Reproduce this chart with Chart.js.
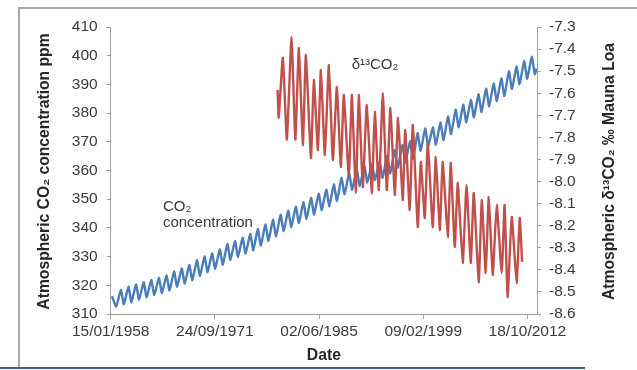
<!DOCTYPE html>
<html>
<head>
<meta charset="utf-8">
<script src="https://cdn.jsdelivr.net/npm/chart.js@4.4.1/dist/chart.umd.min.js"></script>
<style>
  html, body { margin: 0; padding: 0; background: #fff; }
  #wrap { position: relative; width: 637px; height: 370px; overflow: hidden; }
  #frame { position: absolute; left: 18px; top: 7px; width: 700px; height: 362px;
           border-left: 2px solid #a9a9a9; border-top: 2px solid #a9a9a9; box-sizing: border-box; }
  #bottomline { position: absolute; left: 0; top: 367px; width: 585px; height: 2px; background: #3b6091; }
  #box { position: absolute; left: 0; top: 0; width: 637px; height: 370px; }
</style>
</head>
<body>
<div id="wrap">
  <div id="frame"></div>
  <div id="bottomline"></div>
  <div id="box"><canvas id="chart"></canvas></div>
</div>
<script>
// Axis ticks
const tickDates = [1958.04, 1971.73, 1985.42, 1999.11, 2012.80];
const tickLabels = ['15/01/1958', '24/09/1971', '02/06/1985', '09/02/1999', '18/10/2012'];
const ppmTicks = [310, 320, 330, 340, 350, 360, 370, 380, 390, 400, 410];
const d13Ticks = [-8.6, -8.5, -8.4, -8.3, -8.2, -8.1, -8.0, -7.9, -7.8, -7.7, -7.6, -7.5, -7.4, -7.3];

// CO2 concentration (ppm), seasonal highs and lows
const co2Dates = [
    1958.20, 1958.77,
    1959.37, 1959.77, 1960.37, 1960.77, 1961.37, 1961.77, 1962.37, 1962.77,
    1963.37, 1963.77, 1964.37, 1964.77, 1965.37, 1965.77, 1966.37, 1966.77,
    1967.37, 1967.77, 1968.37, 1968.77, 1969.37, 1969.77, 1970.37, 1970.77,
    1971.37, 1971.77, 1972.37, 1972.77, 1973.37, 1973.77, 1974.37, 1974.77,
    1975.37, 1975.77, 1976.37, 1976.77, 1977.37, 1977.77, 1978.37, 1978.77,
    1979.37, 1979.77, 1980.37, 1980.77, 1981.37, 1981.77, 1982.37, 1982.77,
    1983.37, 1983.77, 1984.37, 1984.77, 1985.37, 1985.77, 1986.37, 1986.77,
    1987.37, 1987.77, 1988.37, 1988.77, 1989.37, 1989.77, 1990.37, 1990.77,
    1991.37, 1991.77, 1992.37, 1992.77, 1993.37, 1993.77, 1994.37, 1994.77,
    1995.37, 1995.77, 1996.37, 1996.77, 1997.37, 1997.77, 1998.37, 1998.77,
    1999.37, 1999.77, 2000.37, 2000.77, 2001.37, 2001.77, 2002.37, 2002.77,
    2003.37, 2003.77, 2004.37, 2004.77, 2005.37, 2005.77, 2006.37, 2006.77,
    2007.37, 2007.77, 2008.37, 2008.77, 2009.37, 2009.77, 2010.37, 2010.77,
    2011.37, 2011.77, 2012.37, 2012.77, 2013.37, 2013.77, 2014.00
];
const co2Values = [
    316.2, 312.6,
    318.4, 313.4, 319.5, 314.1, 320.3, 315.0, 321.1, 315.8,
    321.9, 316.6, 322.6, 317.3, 323.4, 318.2, 324.8, 319.5,
    325.9, 320.6, 327.1, 321.8, 328.7, 323.3, 330.0, 324.6,
    331.1, 325.8, 332.5, 327.2, 334.4, 328.9, 335.4, 329.9,
    336.6, 331.1, 337.9, 332.2, 339.6, 333.9, 341.2, 335.5,
    342.8, 337.1, 344.6, 338.9, 346.0, 340.3, 347.4, 341.7,
    348.9, 343.2, 350.4, 344.7, 351.9, 346.2, 353.3, 347.6,
    355.1, 349.4, 357.4, 351.7, 359.0, 353.3, 360.3, 354.6,
    361.5, 355.8, 362.4, 356.7, 363.2, 357.5, 365.1, 359.0,
    367.1, 361.0, 368.9, 362.8, 370.2, 364.1, 373.0, 366.9,
    374.6, 368.5, 375.1, 369.0, 376.7, 370.6, 378.8, 372.7,
    381.2, 375.1, 382.9, 376.8, 384.6, 378.5, 386.6, 380.4,
    388.5, 382.4, 390.3, 384.2, 392.1, 386.0, 394.5, 388.4,
    396.2, 390.1, 398.1, 392.0, 399.6, 393.6, 395.5
];

// d13C of CO2 (per mil), Mauna Loa
const d13Dates = [
    1979.98, 1980.12, 1980.66, 1981.19, 1981.80, 1982.30, 1982.77, 1983.29, 1983.69,
    1984.35, 1984.74, 1985.27, 1985.66, 1986.18, 1986.71, 1987.23, 1987.76,
    1988.28, 1988.68, 1989.33, 1989.73, 1990.25, 1990.64, 1991.17, 1991.69,
    1992.35, 1992.75, 1993.27, 1993.80, 1994.32, 1994.80, 1995.37, 1995.80,
    1996.42, 1996.75, 1997.34, 1997.74, 1998.39, 1998.79, 1999.31, 1999.71,
    2000.36, 2000.76, 2001.28, 2001.68, 2002.33, 2002.73, 2003.25, 2003.65,
    2004.30, 2004.80, 2005.35, 2005.75, 2006.40, 2006.80, 2007.32, 2007.72,
    2008.24, 2008.77, 2009.42, 2009.80, 2010.20, 2010.74, 2011.38, 2011.79, 2012.10
];
const d13Values = [
    -7.585, -7.71, -7.44, -7.81, -7.345, -7.81, -7.395, -7.834, -7.427,
    -7.893, -7.54, -7.857, -7.495, -7.88, -7.472, -7.902, -7.572,
    -7.934, -7.608, -7.979, -7.608, -8.052, -7.608, -8.025, -7.653,
    -8.052, -7.684, -8.038, -7.599, -8.038, -7.667, -8.061, -7.712,
    -8.084, -7.767, -8.129, -7.744, -8.206, -7.911, -8.165, -7.825,
    -8.206, -7.889, -8.22, -7.911, -8.251, -7.916, -8.296, -8.007,
    -8.369, -8.016, -8.369, -8.052, -8.455, -8.084, -8.414, -8.07,
    -8.423, -8.106, -8.414, -8.106, -8.523, -8.16, -8.46, -8.165, -8.364
];

const FONT = "'Liberation Sans', Arial, sans-serif";
const TEXT = '#3a3a3a';
const AXIS = '#a0a0a0';

Chart.defaults.font.family = FONT;
Chart.defaults.color = TEXT;

// titles and in-plot labels
const textPlugin = {
    id: 'texts',
    afterDraw(chart) {
        const ctx = chart.ctx;
        const a = chart.chartArea;
        const x = chart.scales.x, y = chart.scales.y, y1 = chart.scales.y1;
        const midY = (a.top + a.bottom) / 2;
        ctx.save();
        ctx.fillStyle = '#262626';
        ctx.textAlign = 'center';
        ctx.textBaseline = 'middle';
        ctx.font = 'bold 15.7px ' + FONT;

        ctx.save();
        ctx.translate(45, midY + 1);
        ctx.rotate(-Math.PI / 2);
        ctx.fillText('Atmospheric CO\u2082 concentration ppm', 0, 0);
        ctx.restore();

        ctx.save();
        ctx.translate(610, midY + 1);
        ctx.rotate(-Math.PI / 2);
        ctx.fillText('Atmospheric \u03B4\u00B9\u00B3CO\u2082 \u2030 Mauna Loa', 0, 0);
        ctx.restore();

        ctx.fillText('Date', (a.left + a.right) / 2, 356);

        ctx.fillStyle = TEXT;
        ctx.font = '15px ' + FONT;
        ctx.textAlign = 'left';
        ctx.fillText('\u03B4\u00B9\u00B3CO\u2082', x.getPixelForValue(1989.7), y1.getPixelForValue(-7.47));
        ctx.fillText('CO\u2082', x.getPixelForValue(1964.9), y.getPixelForValue(347.3));
        ctx.fillText('concentration', x.getPixelForValue(1964.9), y.getPixelForValue(341.6));
        ctx.restore();
    }
};

const toPoints = (xs, ys) => xs.map((d, i) => ({ x: d, y: ys[i] }));

new Chart(document.getElementById('chart'), {
    type: 'line',
    data: {
        datasets: [{
            label: 'd13CO2',
            data: toPoints(d13Dates, d13Values),
            yAxisID: 'y1',
            borderColor: '#c0504d',
            borderWidth: 2.4,
            pointRadius: 0,
            tension: 0.15
        }, {
            label: 'CO2',
            data: toPoints(co2Dates, co2Values),
            yAxisID: 'y',
            borderColor: '#4a7ebb',
            borderWidth: 2.4,
            pointRadius: 0,
            tension: 0.15
        }]
    },
    options: {
        responsive: true,
        maintainAspectRatio: false,
        animation: false,
        layout: { padding: { top: 27, left: 0, right: 0, bottom: 0 } },
        plugins: {
            legend: { display: false },
            tooltip: { enabled: false }
        },
        scales: {
            x: {
                type: 'linear',
                min: 1958.04,
                max: 2014.06,
                afterBuildTicks: s => { s.ticks = tickDates.map(v => ({ value: v })); },
                afterFit: s => { s.height = 56; },
                ticks: {
                    autoSkip: false,
                    maxRotation: 0,
                    padding: 3,
                    font: { size: 15.5 },
                    callback: (v, i) => tickLabels[i]
                },
                grid: { drawOnChartArea: false, tickLength: 5, tickColor: AXIS },
                border: { color: AXIS, width: 1 }
            },
            y: {
                position: 'left',
                min: 310,
                max: 410,
                afterBuildTicks: s => { s.ticks = ppmTicks.map(v => ({ value: v })); },
                afterFit: s => { s.width = 110.7; },
                ticks: { padding: 9, font: { size: 15.5 }, callback: v => String(v) },
                grid: { drawOnChartArea: false, tickLength: 4, tickColor: AXIS },
                border: { color: AXIS, width: 1 }
            },
            y1: {
                position: 'right',
                min: -8.6,
                max: -7.3,
                afterBuildTicks: s => { s.ticks = d13Ticks.map(v => ({ value: v })); },
                afterFit: s => { s.width = 100; },
                ticks: { padding: 8, font: { size: 15.5 }, callback: v => v.toFixed(1) },
                grid: { drawOnChartArea: false, tickLength: 4, tickColor: AXIS },
                border: { color: AXIS, width: 1 }
            }
        }
    },
    plugins: [textPlugin]
});
</script>
</body>
</html>
